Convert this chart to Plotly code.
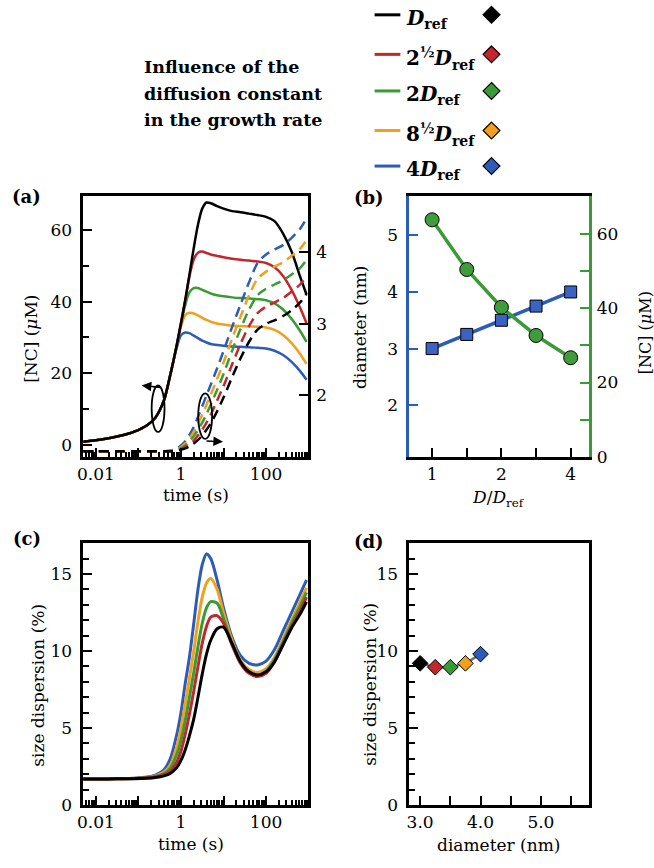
import plotly.graph_objects as go

W, H = 654, 868
FONT = "DejaVu Serif"


def px(x):
    return x / W


def py(y):
    return 1 - y / H


# ---------------- data ----------------
time_s = [0.005, 0.01, 0.02, 0.04, 0.08, 0.16, 0.25, 0.4, 0.56, 0.8,
          1.0, 1.26, 1.58, 2.0, 2.51, 3.16, 3.98, 5.01, 7.08, 10,
          15.8, 25.1, 39.8, 63.1, 100, 158, 251, 398, 631, 891]

colors = ["#000000", "#c1272d", "#3a9a35", "#f0a01c", "#2b5cb8"]
legend_labels = [
    "<b><i>D</i><sub>ref</sub></b>",
    "<b>2<sup>½</sup><i>D</i><sub>ref</sub></b>",
    "<b>2<i>D</i><sub>ref</sub></b>",
    "<b>8<sup>½</sup><i>D</i><sub>ref</sub></b>",
    "<b>4<i>D</i><sub>ref</sub></b>",
]

# [NC] (uM) vs time, panel (a) solid
nc_black = [0.9, 1.3, 1.85, 2.6, 3.7, 5.5, 7.6, 12.5, 19.5, 28,
            34, 40.5, 47.5, 55, 61.5, 66, 67.7, 67.5, 66.7, 66,
            65.3, 65, 64.6, 64.2, 63.7, 62.5, 59, 54, 47, 42]
nc_red = [0.9, 1.3, 1.85, 2.6, 3.7, 5.5, 7.6, 12.5, 19.5, 28,
          34, 40.3, 47, 51.8, 53.7, 54, 53.6, 53.2, 52.8, 52.4,
          52, 51.7, 51.5, 51.2, 50.8, 49.6, 47.2, 43.3, 38.3, 34]
nc_green = [0.9, 1.3, 1.85, 2.6, 3.7, 5.5, 7.6, 12.5, 19.5, 28,
            33.6, 39, 42.6, 43.8, 43.8, 43.3, 42.8, 42.3, 41.8, 41.5,
            41.2, 41, 40.9, 40.7, 40.4, 39.5, 37.8, 35.2, 31.8, 28.8]
nc_orange = [0.9, 1.3, 1.85, 2.6, 3.7, 5.5, 7.6, 12.5, 19.5, 27.8,
             33, 36.2, 36.9, 36.7, 36.2, 35.5, 34.9, 34.4, 33.9, 33.6,
             33.3, 33.2, 33.1, 33, 32.8, 32.1, 30.7, 28.4, 25.4, 22.6]
nc_blue = [0.9, 1.3, 1.85, 2.6, 3.7, 5.5, 7.6, 12.5, 19.5, 27.2,
           30.6, 31.4, 31.2, 30.5, 29.8, 29.1, 28.6, 28.2, 27.9, 27.7,
           27.5, 27.4, 27.3, 27.1, 26.9, 26.3, 25.1, 23.2, 20.6, 18.2]

# diameter (nm) vs time, panel (a) dashed
dia_black = [1.22, 1.22, 1.22, 1.22, 1.22, 1.22, 1.22, 1.22, 1.22, 1.23,
             1.24, 1.26, 1.29, 1.33, 1.38, 1.44, 1.52, 1.61, 1.78, 1.97,
             2.25, 2.52, 2.75, 2.92, 3.0, 3.05, 3.11, 3.19, 3.3, 3.42]
dia_red = [1.22, 1.22, 1.22, 1.22, 1.22, 1.22, 1.22, 1.22, 1.22, 1.23,
           1.25, 1.28, 1.32, 1.37, 1.44, 1.52, 1.62, 1.73, 1.93, 2.13,
           2.43, 2.72, 2.97, 3.15, 3.24, 3.3, 3.36, 3.45, 3.55, 3.67]
dia_green = [1.22, 1.22, 1.22, 1.22, 1.22, 1.22, 1.22, 1.22, 1.22, 1.24,
             1.26, 1.3, 1.36, 1.43, 1.52, 1.62, 1.74, 1.87, 2.08, 2.3,
             2.62, 2.93, 3.2, 3.4, 3.49, 3.55, 3.61, 3.69, 3.78, 3.89]
dia_orange = [1.22, 1.22, 1.22, 1.22, 1.22, 1.22, 1.22, 1.22, 1.23, 1.25,
              1.28, 1.33, 1.4, 1.49, 1.6, 1.73, 1.87, 2.01, 2.23, 2.46,
              2.79, 3.1, 3.4, 3.63, 3.73, 3.8, 3.86, 3.95, 4.05, 4.17]
dia_blue = [1.22, 1.22, 1.22, 1.22, 1.22, 1.22, 1.22, 1.22, 1.23, 1.26,
            1.3, 1.36, 1.45, 1.56, 1.7, 1.85, 2.0, 2.15, 2.38, 2.62,
            2.95, 3.27, 3.58, 3.85, 3.97, 4.04, 4.1, 4.2, 4.33, 4.47]

# size dispersion (%) vs time, panel (c)
sd_black = [1.7, 1.7, 1.7, 1.71, 1.71, 1.74, 1.79, 1.9, 2.05, 2.45,
            2.9, 3.6, 4.5, 5.6, 7.0, 8.5, 9.8, 10.7, 11.45, 11.55,
            10.5, 9.3, 8.65, 8.45, 8.65, 9.3, 10.4, 11.5, 12.4, 13.2]
sd_red = [1.7, 1.7, 1.7, 1.71, 1.72, 1.77, 1.83, 1.97, 2.2, 2.8,
          3.5, 4.6, 5.9, 7.4, 9.0, 10.5, 11.6, 12.2, 12.3, 11.8,
          10.4, 9.2, 8.55, 8.35, 8.55, 9.3, 10.45, 11.6, 12.6, 13.5]
sd_green = [1.7, 1.7, 1.7, 1.71, 1.73, 1.79, 1.86, 2.05, 2.4, 3.3,
            4.2, 5.5, 7.0, 8.6, 10.3, 11.8, 12.8, 13.2, 13.1, 12.1,
            10.5, 9.3, 8.65, 8.45, 8.7, 9.45, 10.6, 11.8, 12.9, 13.8]
sd_orange = [1.7, 1.7, 1.7, 1.71, 1.74, 1.8, 1.9, 2.15, 2.6, 3.8,
             5.0, 6.6, 8.2, 10.0, 11.9, 13.5, 14.4, 14.7, 14.0, 12.5,
             10.7, 9.4, 8.8, 8.6, 8.85, 9.6, 10.8, 12.0, 13.2, 14.1]
sd_blue = [1.7, 1.7, 1.7, 1.72, 1.75, 1.82, 1.95, 2.3, 3.0, 4.6,
           6.0, 7.9, 9.6, 11.8, 14.0, 15.6, 16.3, 16.0, 14.6, 12.8,
           10.9, 9.7, 9.2, 9.1, 9.35, 10.1, 11.3, 12.5, 13.7, 14.6]

# panel (b) and (d)
d_ratio = [1, 1.4142, 2, 2.8284, 4]
final_diameter = [3.0, 3.25, 3.5, 3.75, 4.0]
final_nc = [63.9, 50.5, 40.3, 32.7, 26.7]
final_sd = [9.2, 8.95, 8.95, 9.2, 9.8]

nc_series = [nc_black, nc_red, nc_green, nc_orange, nc_blue]
dia_series = [dia_black, dia_red, dia_green, dia_orange, dia_blue]
sd_series = [sd_black, sd_red, sd_green, sd_orange, sd_blue]

# ---------------- figure ----------------
fig = go.Figure()

# panel (a) dashed diameters (right axis)
for i in [4, 3, 2, 1, 0]:
    fig.add_trace(go.Scatter(x=time_s, y=dia_series[i], xaxis="x", yaxis="y2",
                             mode="lines", line=dict(color=colors[i], width=2.5, dash="10px,6px",
                                                     shape="spline", smoothing=0.8),
                             showlegend=False, hoverinfo="skip"))
# panel (a) solid NC (left axis)
for i in [4, 3, 2, 1, 0]:
    fig.add_trace(go.Scatter(x=time_s, y=nc_series[i], xaxis="x", yaxis="y",
                             mode="lines", line=dict(color=colors[i], width=2.5,
                                                     shape="spline", smoothing=0.8),
                             showlegend=False, hoverinfo="skip"))

# panel (b)
fig.add_trace(go.Scatter(x=d_ratio, y=final_diameter, xaxis="x2", yaxis="y3",
                         mode="lines+markers",
                         line=dict(color="#2b5cb8", width=3.5),
                         marker=dict(symbol="square", size=12, color="#3a63c4",
                                     line=dict(color="black", width=1)),
                         showlegend=False))
fig.add_trace(go.Scatter(x=d_ratio, y=final_nc, xaxis="x2", yaxis="y4",
                         mode="lines+markers",
                         line=dict(color="#3a9a35", width=3.5),
                         marker=dict(symbol="circle", size=14, color="#3f9c3a",
                                     line=dict(color="black", width=1)),
                         showlegend=False))

# panel (c)
for i in [4, 3, 2, 1, 0]:
    fig.add_trace(go.Scatter(x=time_s, y=sd_series[i], xaxis="x3", yaxis="y5",
                             mode="lines", line=dict(color=colors[i], width=3,
                                                     shape="spline", smoothing=0.8),
                             showlegend=False, hoverinfo="skip"))

# panel (d)
fig.add_trace(go.Scatter(x=final_diameter, y=final_sd, xaxis="x4", yaxis="y6",
                         mode="lines", line=dict(color="#707070", width=2.5),
                         showlegend=False))
fig.add_trace(go.Scatter(x=final_diameter, y=final_sd, xaxis="x4", yaxis="y6",
                         mode="markers",
                         marker=dict(symbol="diamond", size=12, color=colors,
                                     line=dict(color="black", width=1)),
                         showlegend=False))

# ---------------- axes ----------------
tickfont = dict(family=FONT, size=17, color="black")
base = dict(showline=True, linecolor="black", linewidth=2.5, ticks="inside",
            tickcolor="black", tickwidth=2, ticklen=9, showgrid=False,
            zeroline=False, tickfont=tickfont)

log_minor = [m * 10 ** e for e in range(-3, 3) for m in range(2, 10)]
xa = [78, 305]
xb = [407, 588]
ya = [198, 462]
yc = [549.5, 814.5]
XSTAND = 0
YLSTAND = 5
YRSTAND = 2

time_axis = dict(base, type="log", range=[-2.295, 2.99], mirror=True,
                 tickvals=[0.01, 0.1, 1, 10, 100, 1000],
                 ticktext=["0.01", "", "1", "", "100", ""],
                 minor=dict(tickmode="array", tickvals=log_minor, ticks="inside",
                            ticklen=5, tickwidth=1.5, tickcolor="black", showgrid=False),
                 ticklabelstandoff=XSTAND)

layout = dict(
    width=W, height=H, margin=dict(l=0, r=0, t=0, b=0),
    paper_bgcolor="white", plot_bgcolor="white", showlegend=False,
    font=dict(family=FONT, color="black"),
    xaxis=dict(time_axis, domain=[px(xa[0]), px(xa[1])], anchor="y"),
    yaxis=dict(base, domain=[py(ya[1]), py(ya[0])], range=[-3.3, 69.6], mirror=True,
               tickvals=[0, 20, 40, 60], anchor="x", ticklabelstandoff=YLSTAND,
               minor=dict(tickmode="array", tickvals=[10, 30, 50], ticks="inside",
                          ticklen=6, tickwidth=1.5, tickcolor="black")),
    yaxis2=dict(base, overlaying="y", side="right", anchor="x", range=[1.145, 4.79],
                tickvals=[2, 3, 4], ticklabelstandoff=YRSTAND),
    xaxis2=dict(base, type="log", domain=[px(xb[0]), px(xb[1])], anchor="y3",
                range=[-0.0993, 0.680], mirror=True,
                tickvals=[1, 1.4142, 2, 2.8284, 4], ticktext=["1", "", "2", "", "4"],
                ticklabelstandoff=XSTAND),
    yaxis3=dict(base, domain=[py(ya[1]), py(ya[0])], anchor="x2", range=[1.09, 5.70],
                linecolor="#2b5cb8", tickcolor="#2b5cb8", tickvals=[2, 3, 4, 5],
                ticklabelstandoff=YLSTAND),
    yaxis4=dict(base, overlaying="y3", side="right", anchor="x2", range=[0, 70.4],
                linecolor="#3a9a35", tickcolor="#3a9a35",
                tickvals=[0, 10, 20, 30, 40, 50, 60],
                ticktext=["0", "", "20", "", "40", "", "60"], ticklabelstandoff=YRSTAND),
    xaxis3=dict(time_axis, domain=[px(xa[0]), px(xa[1])], anchor="y5"),
    yaxis5=dict(base, domain=[py(yc[1]), py(yc[0])], anchor="x3", range=[0, 17],
                mirror=True, tickvals=[0, 5, 10, 15], ticklabelstandoff=YLSTAND,
                minor=dict(dtick=1, ticks="inside", ticklen=6, tickwidth=1.5,
                           tickcolor="black")),
    xaxis4=dict(base, domain=[px(xb[0]), px(xb[1])], anchor="y6", range=[2.82, 5.79],
                mirror=True, tickvals=[3, 3.5, 4, 4.5, 5, 5.5],
                ticktext=["3.0", "", "4.0", "", "5.0", ""], ticklabelstandoff=XSTAND),
    yaxis6=dict(base, domain=[py(yc[1]), py(yc[0])], anchor="x4", range=[0, 17],
                mirror=True, tickvals=[0, 5, 10, 15], ticklabelstandoff=YLSTAND,
                minor=dict(dtick=1, ticks="inside", ticklen=6, tickwidth=1.5,
                           tickcolor="black")),
)
fig.update_layout(**layout)

# ---------------- annotations ----------------
ann = []


def text(x, y, s, size=17, angle=0, xanchor="center", bold=False):
    if bold:
        s = "<b>" + s + "</b>"
    ann.append(dict(x=px(x), y=py(y), xref="paper", yref="paper", text=s,
                    showarrow=False, textangle=angle, xanchor=xanchor, yanchor="middle",
                    font=dict(family=FONT, size=size, color="black")))


# title
text(137, 68, "Influence of the", size=17.5, xanchor="left", bold=True)
text(137, 95, "diffusion constant", size=17.5, xanchor="left", bold=True)
text(137, 121, "in the growth rate", size=17.5, xanchor="left", bold=True)

# panel labels
text(21, 199, "(a)", size=18, bold=True)
text(366, 200, "(b)", size=18, bold=True)
text(21, 545, "(c)", size=18, bold=True)
text(366, 548, "(d)", size=18, bold=True)

# axis titles
text(25, 343, "[NC] (<i>μ</i>M)", angle=-90)
text(192, 501, "time (s)")
text(357, 331, "diameter (nm)", angle=-90)
text(645, 337, "[NC] (<i>μ</i>M)", size=16, angle=-90)
text(497, 504, "<i>D</i>/<i>D</i><sub>ref</sub>")
text(32, 693, "size dispersion (%)", angle=-90)
text(187, 854, "time (s)")
text(367, 692, "size dispersion (%)", angle=-90)
text(497, 855, "diameter (nm)")

# legend
row_y = [15, 55, 92, 132, 168]
shapes = []
for i in range(5):
    ann.append(dict(x=px(402), y=py(row_y[i] + 4), xref="paper", yref="paper",
                    text=legend_labels[i], showarrow=False, xanchor="left",
                    yanchor="middle", font=dict(family=FONT, size=20, color="black")))
    shapes.append(dict(type="line", xref="paper", yref="paper",
                       x0=px(372), x1=px(398), y0=py(row_y[i]), y1=py(row_y[i]),
                       line=dict(color=colors[i], width=3)))
    cx, cy, hw = 490, row_y[i], 8.5
    path = "M {} {} L {} {} L {} {} L {} {} Z".format(
        px(cx), py(cy - hw), px(cx + hw), py(cy), px(cx), py(cy + hw), px(cx - hw), py(cy))
    shapes.append(dict(type="path", xref="paper", yref="paper", path=path,
                       fillcolor=colors[i], line=dict(color="black", width=1.2)))

# ellipses + arrows in panel (a)
shapes.append(dict(type="circle", xref="paper", yref="paper",
                   x0=px(147), x1=px(160), y0=py(437), y1=py(390),
                   line=dict(color="black", width=1.8)))
shapes.append(dict(type="circle", xref="paper", yref="paper",
                   x0=px(194), x1=px(208), y0=py(444), y1=py(398),
                   line=dict(color="black", width=1.8)))
ann.append(dict(x=px(137), y=py(390), xref="paper", yref="paper", text="",
                showarrow=True, ax=20, ay=2, arrowhead=2, arrowsize=1.2,
                arrowwidth=1.6, arrowcolor="black"))
ann.append(dict(x=px(219), y=py(447), xref="paper", yref="paper", text="",
                showarrow=True, ax=-18, ay=-1, arrowhead=2, arrowsize=1.2,
                arrowwidth=1.6, arrowcolor="black"))

fig.update_layout(annotations=ann, shapes=shapes)
fig.write_html("out.html", config={"displayModeBar": False},
               post_script="document.body.style.margin='0';document.body.style.overflow='hidden';")
